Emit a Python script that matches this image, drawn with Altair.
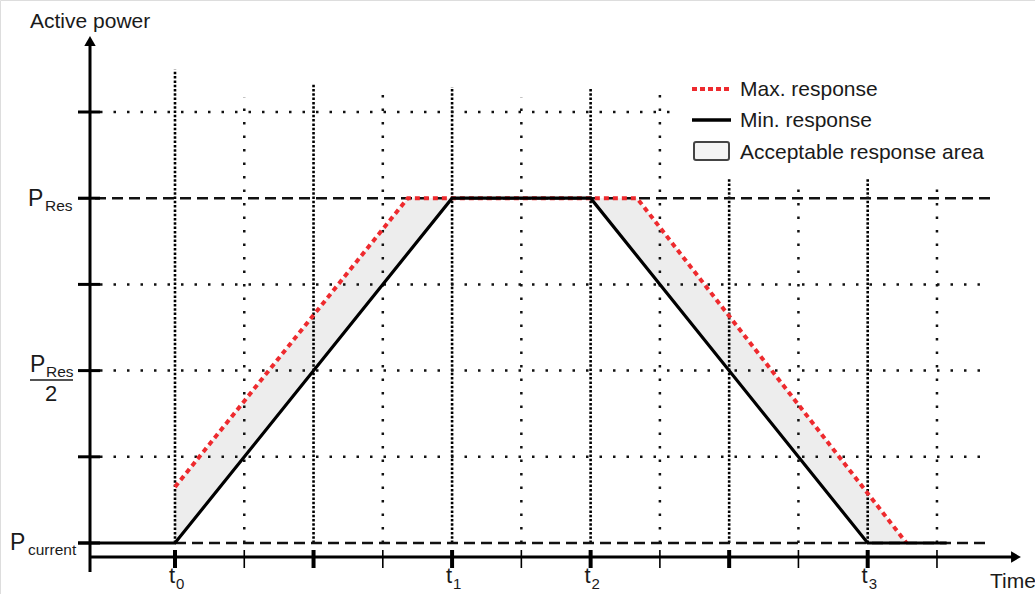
import altair as alt
import pandas as pd

# ---------------- data (time in grid units, t0 = 0; power in grid units, P_current = 0, P_Res = 4)
grid_x = [0, 1, 2, 3, 4, 5, 6, 7, 8, 9, 10, 11]
grid_top = [5.49, 5.17, 5.32, 5.22, 5.29, 5.17, 5.28, 5.23, 4.23, 4.18, 4.23, 4.18]
grid_dense = [True, False, True, False, True, False, True, False, True, False, True, False]

hgrid_y = [1, 2, 3, 5]
hgrid_end = [11.7, 11.7, 11.62, 7.29]

min_x = [-1.4, 0, 4, 6, 10, 11.14]
min_y = [0, 0, 4, 4, 0, 0]
max_x = [0, 3.36, 6.67, 10.56]
max_y = [0.65, 4, 4, 0]
band_x = [0, 3.36, 4, 6, 6.67, 10, 10.56]
band_lo = [0, 3.36, 4, 4, 3.33, 0, 0]
band_hi = [0.65, 4, 4, 4, 4, 0.576, 0]

t_labels = ["0", "1", "2", "3"]
t_pos = [0, 4, 6, 10]

legend_labels = ["Max. response", "Min. response", "Acceptable response area"]

# ---------------- layout helpers (pixel -> data units)
PX0, PXU = 175.0, 69.27
PY0, PYU = 543.0, 86.2


def U(px):
    return (px - PX0) / PXU


def V(py):
    return (PY0 - py) / PYU


W, H = 1035, 594
xs = alt.Scale(domain=[U(0), U(W)], nice=False, zero=False)
ys = alt.Scale(domain=[V(H), V(0)], nice=False, zero=False)
FONT = "Liberation Sans"


def X(f="x"):
    return alt.X(f"{f}:Q", scale=xs, axis=None)


def Y(f="y"):
    return alt.Y(f"{f}:Q", scale=ys, axis=None)


def rules(df, **mk):
    return alt.Chart(df).mark_rule(**mk).encode(
        x=X("x"), x2="x2:Q", y=Y("y"), y2="y2:Q")


def text(df, **mk):
    base = dict(font=FONT, baseline="alphabetic", color="#1a1a1a")
    base.update(mk)
    return alt.Chart(df).mark_text(**base).encode(x=X("x"), y=Y("y"), text="t:N")


layers = []

# acceptable response area
band = pd.DataFrame({"x": band_x, "lo": band_lo, "hi": band_hi})
layers.append(alt.Chart(band).mark_area(color="#ededed", opacity=1).encode(
    x=X("x"), y=Y("lo"), y2="hi:Q"))

# vertical dotted grid
vg = pd.DataFrame({"x": grid_x, "x2": grid_x, "y": [0] * 12, "y2": grid_top, "d": grid_dense})
layers.append(rules(vg[vg.d], color="#000", strokeWidth=2.6, strokeDash=[2.5, 1.8]))
layers.append(rules(vg[~vg.d], color="#111", strokeWidth=2.5, strokeDash=[2.5, 11]))

# horizontal dotted grid
hg = pd.DataFrame({"x": [U(100)] * 4, "x2": hgrid_end, "y": hgrid_y, "y2": hgrid_y})
layers.append(rules(hg, color="#111", strokeWidth=2.5, strokeDash=[2.5, 11]))

# dashed P_Res and P_current lines
dl = pd.DataFrame({"x": [U(78), 0], "x2": [U(990), U(988)], "y": [4, 0], "y2": [4, 0]})
layers.append(rules(dl, color="#111", strokeWidth=2.5, strokeDash=[11, 6]))

# max response
mx = pd.DataFrame({"x": max_x, "y": max_y})
layers.append(alt.Chart(mx).mark_line(color="#ee2a2e", strokeWidth=4, strokeDash=[5, 4]).encode(
    x=X("x"), y=Y("y"), order="x:Q"))

# min response
mn = pd.DataFrame({"x": min_x, "y": min_y})
layers.append(alt.Chart(mn).mark_line(color="#000", strokeWidth=3.2).encode(
    x=X("x"), y=Y("y"), order="x:Q"))

# axes
ax = pd.DataFrame({"x": [U(90), U(90)], "x2": [U(90), U(1014)],
                   "y": [V(572), V(557)], "y2": [V(44), V(557)]})
layers.append(rules(ax, color="#000", strokeWidth=3))
arrows_up = pd.DataFrame({"x": [U(90)], "y": [V(41)]})
layers.append(alt.Chart(arrows_up).mark_point(shape="triangle-up", filled=True, color="#000",
                                              size=130, opacity=1).encode(x=X("x"), y=Y("y")))
arrows_r = pd.DataFrame({"x": [U(1016)], "y": [V(557)]})
layers.append(alt.Chart(arrows_r).mark_point(shape="triangle-right", filled=True, color="#000",
                                             size=130, opacity=1).encode(x=X("x"), y=Y("y")))

# y ticks
yt = pd.DataFrame({"x": [U(78)] * 6, "x2": [U(100)] * 6, "y": [0, 1, 2, 3, 4, 5],
                   "y2": [0, 1, 2, 3, 4, 5]})
layers.append(rules(yt, color="#000", strokeWidth=3))

# x ticks
xt = pd.DataFrame({"x": grid_x, "x2": grid_x, "y": [V(550)] * 12, "y2": [V(568)] * 12,
                   "d": grid_dense})
layers.append(rules(xt[xt.d], color="#000", strokeWidth=4))
layers.append(rules(xt[~xt.d], color="#000", strokeWidth=1.6))

# x tick labels t0..t3
tl = pd.DataFrame({"x": t_pos, "y": [V(583)] * 4, "t": ["t"] * 4})
layers.append(text(tl, fontSize=22, align="right"))
ts = pd.DataFrame({"x": [p + U(176) - U(175) for p in t_pos], "y": [V(589)] * 4, "t": t_labels})
layers.append(text(ts, fontSize=15, align="left"))

# y tick labels
pm = pd.DataFrame({"x": [U(28), U(30), U(10)], "y": [V(206), V(372), V(550)], "t": ["P", "P", "P"]})
layers.append(text(pm, fontSize=23, align="left"))
psub = pd.DataFrame({"x": [U(45), U(46), U(28)], "y": [V(211), V(377), V(555)],
                     "t": ["Res", "Res", "current"]})
layers.append(text(psub, fontSize=15.5, align="left"))
frac = pd.DataFrame({"x": [U(30)], "x2": [U(73)], "y": [V(380)], "y2": [V(380)]})
layers.append(rules(frac, color="#1a1a1a", strokeWidth=1.5))
two = pd.DataFrame({"x": [U(51)], "y": [V(401)], "t": ["2"]})
layers.append(text(two, fontSize=22, align="center"))

# axis titles
tt = pd.DataFrame({"x": [U(30), U(990)], "y": [V(28), V(588)], "t": ["Active power", "Time"]})
layers.append(text(tt, fontSize=21, align="left"))

# legend
lg_red = pd.DataFrame({"x": [U(692)], "x2": [U(731)], "y": [V(89)], "y2": [V(89)]})
layers.append(rules(lg_red, color="#ee2a2e", strokeWidth=4, strokeDash=[5, 3]))
lg_blk = pd.DataFrame({"x": [U(692)], "x2": [U(731)], "y": [V(120)], "y2": [V(120)]})
layers.append(rules(lg_blk, color="#000", strokeWidth=3.5))
lg_box = pd.DataFrame({"x": [U(694)], "x2": [U(729)], "y": [V(142)], "y2": [V(160)]})
layers.append(alt.Chart(lg_box).mark_rect(fill="#f4f4f4", stroke="#444", strokeWidth=2,
                                          cornerRadius=2).encode(
    x=X("x"), x2="x2:Q", y=Y("y"), y2="y2:Q"))
lt = pd.DataFrame({"x": [U(740)] * 3, "y": [V(96), V(127), V(159)], "t": legend_labels})
layers.append(text(lt, fontSize=21, align="left"))

chart = alt.layer(*layers).properties(
    width=W, height=H, autosize=alt.AutoSizeParams(type="none"), padding=0
).configure_view(stroke=None).configure(background="white")

chart.save("out.html", embed_options={"renderer": "svg", "actions": False})
